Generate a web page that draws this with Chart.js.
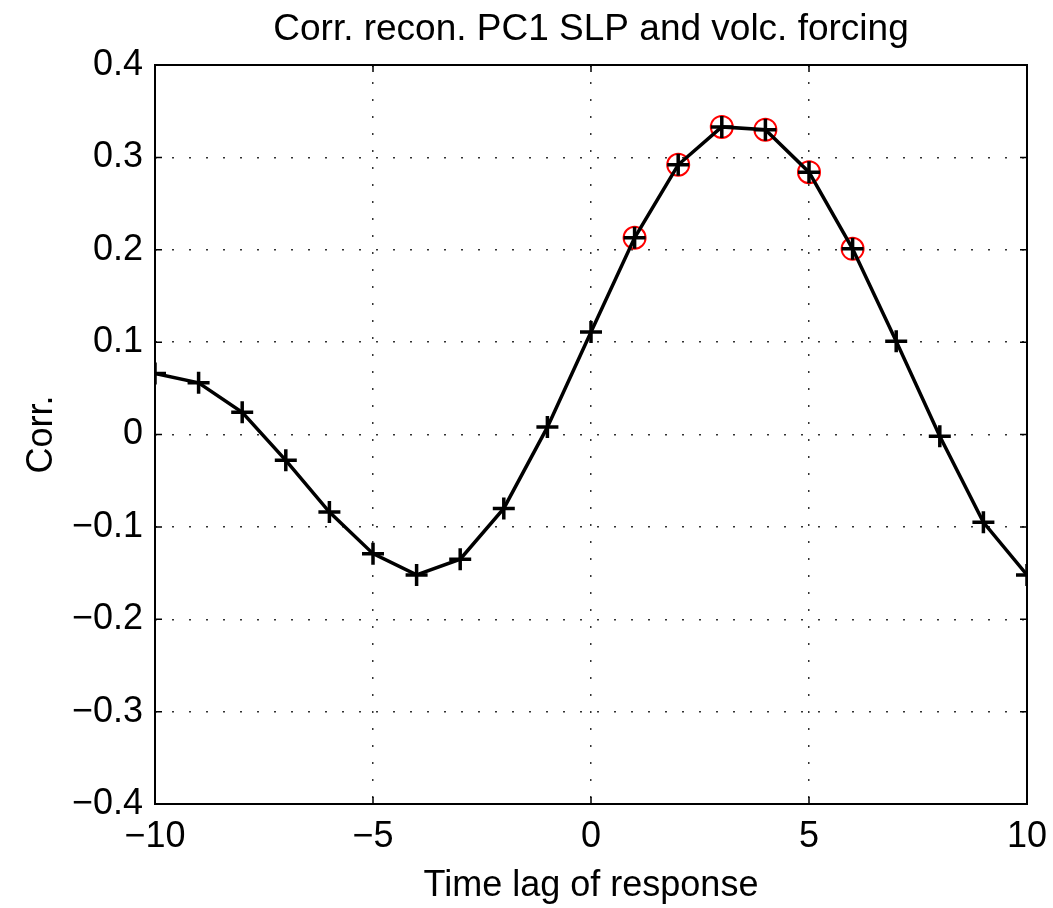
<html><head><meta charset="utf-8">
<script src="https://cdn.jsdelivr.net/npm/chart.js@4"></script>
<style>body{margin:0;background:#fff;}#wrap{width:1053px;height:908px;}</style>
</head>
<body>
<div id="wrap"><canvas id="myChart"></canvas></div>
<script>
var lags = [-10,-9,-8,-7,-6,-5,-4,-3,-2,-1,0,1,2,3,4,5,6,7,8,9,10];
var corr = [0.066,0.056,0.024,-0.028,-0.084,-0.129,-0.152,-0.135,-0.080,0.008,0.111,0.213,0.292,0.333,0.330,0.284,0.201,0.101,-0.002,-0.095,-0.152];
var sigLags = [1,2,3,4,5,6];
var yTicks = [-0.4,-0.3,-0.2,-0.1,0,0.1,0.2,0.3,0.4];
var xTicks = [-10,-5,0,5,10];

function fmt(v){
  var s = (Math.round(v*10)/10).toString();
  return s.replace('-', '\u2212');
}

var lineData = lags.map(function(x,i){ return {x:x, y:corr[i]}; });
var sigData = sigLags.map(function(x){ return {x:x, y:corr[lags.indexOf(x)]}; });

// box round the axes plus MATLAB style inward ticks
var boxPlugin = {
  id: 'box',
  afterDatasetsDraw: function(chart){
    var c = chart.ctx, a = chart.chartArea;
    var xs = chart.scales.x, ys = chart.scales.y;
    c.save();
    c.strokeStyle = '#000';
    c.lineWidth = 2;
    c.strokeRect(a.left, a.top, a.right - a.left, a.bottom - a.top);
    c.lineWidth = 1.5;
    c.beginPath();
    xTicks.forEach(function(t){
      var px = xs.getPixelForValue(t);
      c.moveTo(px, a.bottom); c.lineTo(px, a.bottom - 7);
      c.moveTo(px, a.top); c.lineTo(px, a.top + 7);
    });
    yTicks.forEach(function(t){
      var py = ys.getPixelForValue(t);
      c.moveTo(a.left, py); c.lineTo(a.left + 7, py);
      c.moveTo(a.right, py); c.lineTo(a.right - 7, py);
    });
    c.stroke();
    c.restore();
  }
};

var ctx = document.getElementById('myChart');
var myChart = new Chart(ctx, {
  type: 'scatter',
  data: {
    datasets: [{
      label: 'corr',
      data: lineData,
      showLine: true,
      borderColor: '#000',
      backgroundColor: '#000',
      borderWidth: 3.5,
      pointStyle: 'cross',
      pointRadius: 11,
      pointBorderWidth: 3.5,
      order: 1
    }, {
      label: 'significant',
      data: sigData,
      showLine: false,
      borderColor: '#ff0000',
      backgroundColor: 'rgba(0,0,0,0)',
      pointStyle: 'circle',
      pointRadius: 11,
      pointBorderWidth: 2,
      order: 2
    }]
  },
  options: {
    responsive: true,
    maintainAspectRatio: false,
    animation: false,
    layout: { padding: { left: 0, right: 26, top: 0, bottom: 0 } },
    plugins: {
      legend: { display: false },
      tooltip: { enabled: false }
    },
    scales: {
      x: {
        type: 'linear',
        min: -10, max: 10,
        afterBuildTicks: function(s){ s.ticks = xTicks.map(function(v){ return {value:v}; }); },
        afterFit: function(s){ s.height = 104; s.paddingLeft = 0; s.paddingRight = 0; },
        ticks: {
          color: '#000',
          font: { family: 'Liberation Sans', size: 36 },
          padding: 11,
          maxRotation: 0,
          callback: function(v){ return fmt(v); }
        },
        grid: { color: '#333', lineWidth: 1.5, drawTicks: false },
        border: { display: false, dash: [2,15] },
        title: {
          display: true,
          text: 'Time lag of response',
          color: '#000',
          font: { family: 'Liberation Sans', size: 36 },
          padding: { top: 0, bottom: 0 }
        }
      },
      // top axis only carries the title so it centres over the plot area
      xTop: {
        type: 'linear',
        position: 'top',
        min: -10, max: 10,
        afterFit: function(s){ s.height = 65; s.paddingLeft = 0; s.paddingRight = 0; },
        ticks: { display: false },
        grid: { display: false, drawTicks: false },
        border: { display: false },
        title: {
          display: true,
          text: 'Corr. recon. PC1 SLP and volc. forcing',
          color: '#000',
          font: { family: 'Liberation Sans', size: 37 },
          padding: { top: 8, bottom: 0 }
        }
      },
      y: {
        type: 'linear',
        min: -0.4, max: 0.4,
        afterBuildTicks: function(s){ s.ticks = yTicks.map(function(v){ return {value:v}; }); },
        afterFit: function(s){ s.width = 155; },
        ticks: {
          color: '#000',
          font: { family: 'Liberation Sans', size: 36 },
          padding: 12,
          callback: function(v){ return fmt(v); }
        },
        grid: { color: '#333', lineWidth: 1.5, drawTicks: false },
        border: { display: false, dash: [2,15] },
        title: {
          display: true,
          text: 'Corr.',
          color: '#000',
          font: { family: 'Liberation Sans', size: 36 },
          padding: { top: 20, bottom: 0 }
        }
      }
    }
  },
  plugins: [boxPlugin]
});
</script>
</body></html>
